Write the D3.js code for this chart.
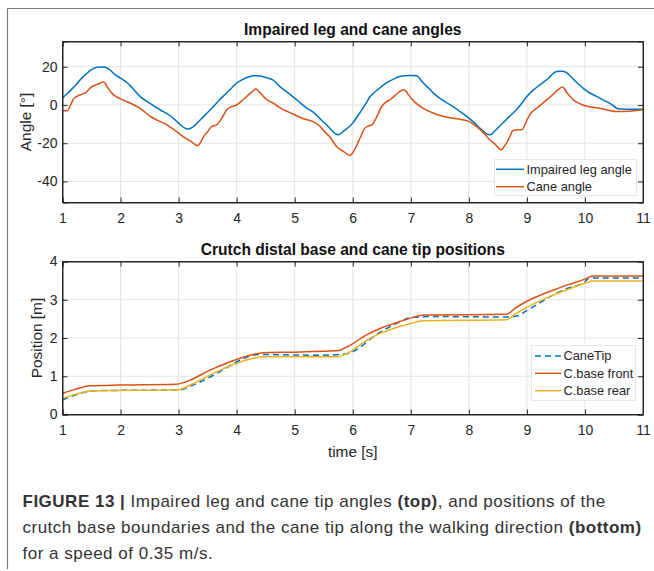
<!DOCTYPE html>
<html>
<head>
<meta charset="utf-8">
<script src="https://cdn.jsdelivr.net/npm/d3@7"></script>
<style>
html,body{margin:0;padding:0;background:#fff;}
svg{display:block;}
text{font-family:"Liberation Sans",Arial,Helvetica,sans-serif;}
</style>
</head>
<body>
<svg id="chart" width="654" height="571"></svg>
<script>
// ---------- DATA ----------
const xTicks = [1,2,3,4,5,6,7,8,9,10,11];
const angleTicks = [-40,-20,0,20];
const posTicks = [0,1,2,3,4];

const legTime  = [1.0,1.1,1.2,1.3,1.4,1.5,1.6,1.7,1.8,1.9,2.0,2.1,2.2,2.34,2.5,2.68,2.85,3.0,3.1,3.16,3.25,3.35,3.49,3.6,3.7,3.8,3.9,4.0,4.1,4.2,4.29,4.4,4.5,4.63,4.75,4.88,5.0,5.1,5.2,5.35,5.43,5.5,5.6,5.7,5.75,5.85,6.0,6.1,6.2,6.3,6.45,6.58,6.7,6.81,6.9,7.0,7.1,7.2,7.3,7.39,7.5,7.6,7.73,7.85,8.0,8.1,8.19,8.3,8.37,8.45,8.55,8.7,8.85,9.0,9.1,9.2,9.34,9.42,9.51,9.6,9.68,9.75,9.85,10.0,10.1,10.2,10.31,10.45,10.57,10.7,11.0];
const legAngle = [3.6,6.5,9.5,13,16,18.5,19.7,19.8,18.8,16,14,12,9,4.4,1,-2.5,-5.5,-9.5,-12,-12.6,-11.5,-8.5,-4.2,-0.8,2.5,5.5,8.5,11.5,13.3,14.6,15.3,15.2,14.4,13,9.5,6.5,3.6,1,-1.5,-4.5,-7,-9,-12,-15,-15.6,-13.5,-9.5,-5,-0.5,4.4,8.5,11.5,13.5,14.9,15.3,15.4,15.3,12,9,6.2,3.5,1.5,-0.8,-3.5,-6.9,-9.5,-12.1,-15,-15.6,-13.5,-10.5,-6,-1.5,4.4,7.5,10,13.2,15.5,17.5,17.6,17,15,12,8,6,4.5,2.7,0.5,-2,-2.2,-2.2];

const caneTime  = [1.0,1.08,1.14,1.19,1.3,1.4,1.5,1.6,1.71,1.78,1.85,1.93,2.0,2.2,2.35,2.51,2.65,2.8,2.9,3.0,3.1,3.2,3.33,3.38,3.43,3.5,3.57,3.65,3.71,3.77,3.83,3.9,4.0,4.1,4.17,4.25,4.33,4.4,4.49,4.56,4.63,4.75,4.88,5.0,5.15,5.3,5.43,5.5,5.6,5.72,5.85,5.95,6.0,6.06,6.13,6.21,6.27,6.33,6.4,6.5,6.57,6.64,6.75,6.87,6.92,6.96,7.07,7.2,7.35,7.5,7.7,7.85,8.0,8.13,8.25,8.36,8.45,8.56,8.6,8.65,8.7,8.76,8.85,8.91,9.0,9.05,9.2,9.34,9.45,9.55,9.61,9.7,9.8,9.9,10.0,10.2,10.4,10.54,10.75,11.0];
const caneAngle = [-3,-3,0,3.2,5.2,6.5,9.5,10.8,12,9,6.2,4.2,3.2,0.5,-2,-6,-8.2,-10.4,-12.5,-14.7,-17,-18.8,-21.2,-19.5,-16.5,-14,-11.2,-10.5,-8.6,-5.5,-2.5,-1,0,2.5,4.4,6.5,8.3,6.5,3.6,2,1,-1.5,-3.5,-5.1,-7.2,-8.5,-11,-13.5,-16.5,-21.7,-24.5,-26.4,-25,-21.7,-17,-12.1,-11,-10.4,-7,-0.8,1.5,2.7,5.5,8,7.2,5.3,1.5,-1.5,-3.8,-5.5,-6.8,-7.5,-8.6,-11.2,-14.5,-18.2,-20.5,-23.4,-22,-19.9,-17,-13.3,-13,-13,-8,-5.1,-1,2.7,5.5,8.3,9.4,6,2.7,0.8,-0.4,-1.5,-2.7,-3.4,-3.3,-2.5];

const tipTime = [1.0,1.2,1.54,3.05,3.2,3.37,3.71,4.06,4.26,4.4,5.43,5.87,6.07,6.35,6.7,7.04,7.39,8.7,8.84,9.0,9.2,9.45,9.7,10.0,10.07,11.0];
const tipPos  = [0.38,0.5,0.62,0.65,0.74,0.85,1.12,1.42,1.54,1.57,1.55,1.58,1.7,2.03,2.34,2.54,2.56,2.55,2.58,2.72,2.9,3.12,3.3,3.47,3.57,3.57];

const frontTime = [1.0,1.2,1.48,2.0,2.95,3.05,3.2,3.54,3.89,4.23,4.52,5.0,5.75,5.85,6.01,6.2,6.47,6.81,7.0,7.22,8.65,8.8,9.0,9.2,9.45,9.7,10.0,10.13,11.0];
const frontPos  = [0.55,0.65,0.75,0.77,0.79,0.82,0.9,1.16,1.38,1.55,1.62,1.63,1.67,1.73,1.86,2.05,2.25,2.43,2.52,2.6,2.62,2.78,2.96,3.1,3.25,3.39,3.54,3.62,3.62];

const rearTime = [1.0,1.2,1.54,3.0,3.2,3.54,3.89,4.23,4.52,5.75,5.85,6.01,6.2,6.47,6.81,7.0,7.22,8.65,8.8,9.0,9.2,9.45,9.7,10.0,10.13,11.0];
const rearPos  = [0.42,0.52,0.62,0.65,0.77,1.03,1.27,1.45,1.51,1.51,1.56,1.69,1.9,2.12,2.3,2.38,2.45,2.48,2.63,2.8,2.95,3.12,3.27,3.43,3.49,3.49];

const topTitle = "Impaired leg and cane angles";
const bottomTitle = "Crutch distal base and cane tip positions";
const topLegend = ["Impaired leg angle","Cane angle"];
const bottomLegend = ["CaneTip","C.base front","C.base rear"];

// ---------- DRAW ----------
const svg = d3.select("#chart");
const AX = "#262626", GRID = "#e3e3e3";
const BLUE = "#0072BD", ORANGE = "#D95319", YELLOW = "#EDB120";

// outer frame
svg.append("line").attr("x1",7.5).attr("y1",8.5).attr("x2",654).attr("y2",8.5).attr("stroke","#777").attr("stroke-width",1.2);
svg.append("line").attr("x1",7.5).attr("y1",8.5).attr("x2",7.5).attr("y2",569).attr("stroke","#777").attr("stroke-width",1.2);

function panel(cfg){
  const x = d3.scaleLinear().domain([1,11]).range([62.5,643]);
  const y = d3.scaleLinear().domain(cfg.ydom).range([cfg.bottom,cfg.top]);
  const g = svg.append("g");
  // grid
  g.append("g").selectAll("line").data(xTicks.slice(1,-1)).join("line")
    .attr("x1",d=>x(d)).attr("x2",d=>x(d)).attr("y1",cfg.top).attr("y2",cfg.bottom)
    .attr("stroke",GRID).attr("stroke-width",1);
  g.append("g").selectAll("line").data(cfg.yticks.filter(v=>y(v)>cfg.top+1 && y(v)<cfg.bottom-1)).join("line")
    .attr("x1",x(1)).attr("x2",x(11)).attr("y1",d=>y(d)).attr("y2",d=>y(d))
    .attr("stroke",GRID).attr("stroke-width",1);
  // series
  const clip = "clip"+cfg.id;
  svg.append("clipPath").attr("id",clip).append("rect")
    .attr("x",x(1)).attr("y",cfg.top).attr("width",x(11)-x(1)).attr("height",cfg.bottom-cfg.top);
  const line = d3.line().x(d=>x(d[0])).y(d=>y(d[1])).curve(d3.curveMonotoneX);
  cfg.series.forEach(s=>{
    g.append("path").attr("clip-path",`url(#${clip})`)
      .datum(d3.zip(s.t,s.v)).attr("d",line)
      .attr("fill","none").attr("stroke",s.color).attr("stroke-width",1.5)
      .attr("stroke-dasharray",s.dash||null).attr("stroke-linejoin","round");
  });
  const fmt = d => String(d);
  // axes
  const ax = g.append("g").attr("transform",`translate(0,${cfg.bottom})`)
    .call(d3.axisBottom(x).tickValues(xTicks).tickSize(-5).tickPadding(10.5).tickFormat(fmt));
  const axT = g.append("g").attr("transform",`translate(0,${cfg.top})`)
    .call(d3.axisTop(x).tickValues(xTicks).tickSize(-5).tickFormat(""));
  const ay = g.append("g").attr("transform",`translate(${x(1)},0)`)
    .call(d3.axisLeft(y).tickValues(cfg.yticks).tickSize(-5).tickPadding(5).tickFormat(fmt));
  const ayR = g.append("g").attr("transform",`translate(${x(11)},0)`)
    .call(d3.axisRight(y).tickValues(cfg.yticks).tickSize(-5).tickFormat(""));
  [ax,axT,ay,ayR].forEach(a=>{
    a.select(".domain").attr("stroke",AX).attr("stroke-width",1);
    a.selectAll(".tick line").attr("stroke",AX).attr("stroke-width",1);
    a.selectAll(".tick text").attr("fill",AX).attr("font-size",14)
      .attr("font-family",'"Liberation Sans",Arial,sans-serif');
  });
  g.append("rect").attr("x",x(1)).attr("y",cfg.top).attr("width",x(11)-x(1)).attr("height",cfg.bottom-cfg.top)
    .attr("fill","none").attr("stroke",AX).attr("stroke-width",1);
  // title
  svg.append("text").attr("x",(x(1)+x(11))/2).attr("y",cfg.titleY).attr("text-anchor","middle")
    .attr("font-size",15.6).attr("font-weight","bold").attr("fill","#111").text(cfg.title);
  // y label
  svg.append("text").attr("transform",`translate(${cfg.ylabX},${(cfg.top+cfg.bottom)/2}) rotate(-90)`)
    .attr("text-anchor","middle").attr("font-size",15.4).attr("fill",AX).text(cfg.ylabel);
  // legend
  const L = cfg.legend;
  const lg = svg.append("g");
  lg.append("rect").attr("x",L.x0).attr("y",L.y0).attr("width",L.x1-L.x0).attr("height",L.y1-L.y0)
    .attr("fill","#fff").attr("stroke","#e6e6e6").attr("stroke-width",1);
  cfg.series.forEach((s,i)=>{
    const yy = L.rows[i];
    lg.append("line").attr("x1",L.lx0).attr("x2",L.lx1).attr("y1",yy).attr("y2",yy)
      .attr("stroke",s.color).attr("stroke-width",1.5).attr("stroke-dasharray",s.dash||null);
    lg.append("text").attr("x",L.tx).attr("y",yy).attr("dy","0.35em")
      .attr("font-size",12.8).attr("fill",AX).text(L.labels[i]);
  });
}

panel({
  id:"a", top:41.5, bottom:202.5, ydom:[-51,33.2], yticks:angleTicks,
  title:topTitle, titleY:34.5, ylabel:"Angle [°]", ylabX:31,
  series:[
    {t:legTime, v:legAngle, color:BLUE},
    {t:caneTime, v:caneAngle, color:ORANGE}
  ],
  legend:{x0:494.5,x1:636.5,y0:159.5,y1:195.5,lx0:496,lx1:524,tx:526.5,rows:[169.3,186.7],labels:topLegend}
});

panel({
  id:"b", top:261.5, bottom:414.5, ydom:[0,4], yticks:posTicks,
  title:bottomTitle, titleY:254.5, ylabel:"Position [m]", ylabX:42,
  series:[
    {t:tipTime, v:tipPos, color:BLUE, dash:"6,4"},
    {t:frontTime, v:frontPos, color:ORANGE},
    {t:rearTime, v:rearPos, color:YELLOW}
  ],
  legend:{x0:531.5,x1:635.5,y0:345.5,y1:400.5,lx0:535,lx1:561.5,tx:563.5,rows:[356,373.3,390.7],labels:bottomLegend}
});

// x label
svg.append("text").attr("x",352.7).attr("y",457).attr("text-anchor","middle")
  .attr("font-size",15.4).attr("fill",AX).text("time [s]");

// caption
const cap = svg.append("text").attr("font-size",17).attr("letter-spacing",0.5).attr("fill","#333");
const l1 = cap.append("tspan").attr("x",22.5).attr("y",506.5);
l1.append("tspan").attr("font-weight","bold").text("FIGURE 13 | ");
l1.append("tspan").text("Impaired leg and cane tip angles ");
l1.append("tspan").attr("font-weight","bold").text("(top)");
l1.append("tspan").text(", and positions of the");
const l2 = cap.append("tspan").attr("x",22.5).attr("y",532.5);
l2.append("tspan").text("crutch base boundaries and the cane tip along the walking direction ");
l2.append("tspan").attr("font-weight","bold").text("(bottom)");
cap.append("tspan").attr("x",22.5).attr("y",558.5).text("for a speed of 0.35 m/s.");
</script>
</body>
</html>
